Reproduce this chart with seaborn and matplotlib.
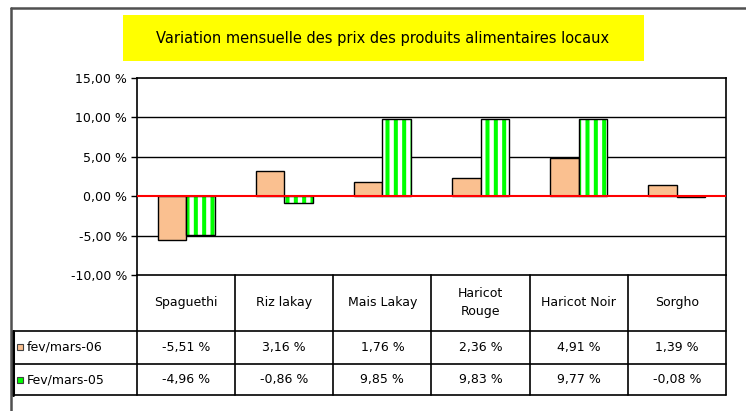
import matplotlib
matplotlib.use("Agg")
import matplotlib.pyplot as plt
from matplotlib.patches import Rectangle
from matplotlib.ticker import FuncFormatter
import pandas as pd
import seaborn as sns

# Données du graphique
produits = ["Spaguethi", "Riz lakay", "Mais Lakay", "Haricot\nRouge", "Haricot Noir", "Sorgho"]
periodes = ["fev/mars-06", "Fev/mars-05"]
var_2006 = [-5.51, 3.16, 1.76, 2.36, 4.91, 1.39]
var_2005 = [-4.96, -0.86, 9.85, 9.83, 9.77, -0.08]
y_ticks = [-10, -5, 0, 5, 10, 15]
titre = "Variation mensuelle des prix des produits alimentaires locaux"

ORANGE = "#FAC090"
VERT = "#00FF00"


def fmt_pct(v):
    return f"{v:.2f} %".replace(".", ",")


df = pd.DataFrame({
    "produit": produits * 2,
    "variation": var_2006 + var_2005,
    "periode": [periodes[0]] * len(produits) + [periodes[1]] * len(produits),
})

sns.set_style("white")
plt.rcParams["font.family"] = ["DejaVu Sans"]
plt.rcParams["text.color"] = "black"
plt.rcParams["ytick.labelcolor"] = "black"
plt.rcParams["hatch.linewidth"] = 2.9

W, H = 746, 411
fig = plt.figure(figsize=(W / 100, H / 100), dpi=100)
fig.patch.set_facecolor("white")

# zone du graphique (en pixels)
x0, x1, y_top, y_bot = 137, 726, 78, 275
ax = fig.add_axes([x0 / W, 1 - y_bot / H, (x1 - x0) / W, (y_bot - y_top) / H])

sns.barplot(data=df, x="produit", y="variation", hue="periode",
            palette=[ORANGE, VERT], saturation=1, width=0.58, edgecolor="black",
            linewidth=1.0, ax=ax, legend=False, zorder=3)

# barres vertes hachurées + contour noir
for bar in ax.containers[1]:
    bar.set_facecolor("white")
    bar.set_edgecolor(VERT)
    bar.set_linewidth(0)
    bar.set_hatch("||")
    contour = Rectangle(bar.get_xy(), bar.get_width(), bar.get_height(),
                        fill=False, edgecolor="black", linewidth=1.0, zorder=4)
    ax.add_patch(contour)

ax.set_xlim(-0.5, len(produits) - 0.5)
ax.set_ylim(y_ticks[0], y_ticks[-1])
ax.set_yticks(y_ticks)
ax.yaxis.set_major_formatter(FuncFormatter(lambda v, p: fmt_pct(v)))
ax.tick_params(axis="y", length=4, width=1, color="black", labelcolor="black",
               labelsize=9, pad=3, left=True)
ax.set_xticks([])
ax.set_xlabel("")
ax.set_ylabel("")
for s in ax.spines.values():
    s.set_color("black")
    s.set_linewidth(1.2)
    s.set_visible(True)

for v in y_ticks[1:-1]:
    if v == 0:
        ax.axhline(0, color="red", linewidth=1.5, zorder=5)
    else:
        ax.axhline(v, color="black", linewidth=1.0, zorder=1)

# tableau de données sous le graphique
row_y = [0, -0.284, -0.452, -0.609]
left_frac = (13 - x0) / (x1 - x0)
trans = ax.get_xaxis_transform()
line_kw = dict(color="black", linewidth=1.2, clip_on=False)

for i in range(len(produits) + 1):
    ax.plot([i - 0.5, i - 0.5], [row_y[0], row_y[-1]], transform=trans, **line_kw)
for yy in row_y[1:]:
    ax.plot([left_frac, 1], [yy, yy], transform=ax.transAxes, **line_kw)
ax.plot([left_frac, left_frac], [row_y[1], row_y[-1]], transform=ax.transAxes,
        color="black", linewidth=2.2, clip_on=False)

for i, p in enumerate(produits):
    ax.text(i, (row_y[0] + row_y[1]) / 2, p, transform=trans, ha="center",
            va="center", fontsize=9, linespacing=1.5)

for r, (nom, vals, col) in enumerate([(periodes[0], var_2006, ORANGE),
                                      (periodes[1], var_2005, VERT)]):
    yc = (row_y[r + 1] + row_y[r + 2]) / 2
    ax.plot([left_frac + 0.012], [yc], marker="s", ms=4.5, mfc=col, mec="#404040",
            mew=0.8, transform=ax.transAxes, clip_on=False)
    ax.text(left_frac + 0.024, yc, nom, transform=ax.transAxes, ha="left",
            va="center", fontsize=9)
    for i, v in enumerate(vals):
        ax.text(i, yc, fmt_pct(v), transform=trans, ha="center", va="center",
                fontsize=9)

# titre sur fond jaune
fig.patches.append(Rectangle((123 / W, 1 - 61 / H), (644 - 123) / W, 46 / H,
                             transform=fig.transFigure, facecolor="#FFFF00",
                             edgecolor="none", zorder=0))
fig.text(383 / W, 1 - 38 / H, titre, ha="center", va="center", fontsize=10.5,
         color="black")

# cadre extérieur
fig.add_artist(plt.Line2D([11 / W, 1], [1 - 8 / H, 1 - 8 / H],
                          transform=fig.transFigure, color="#505050", linewidth=1.8))
fig.add_artist(plt.Line2D([11 / W, 11 / W], [0, 1 - 8 / H],
                          transform=fig.transFigure, color="#505050", linewidth=1.8))

fig.savefig("out.png", dpi=100)
